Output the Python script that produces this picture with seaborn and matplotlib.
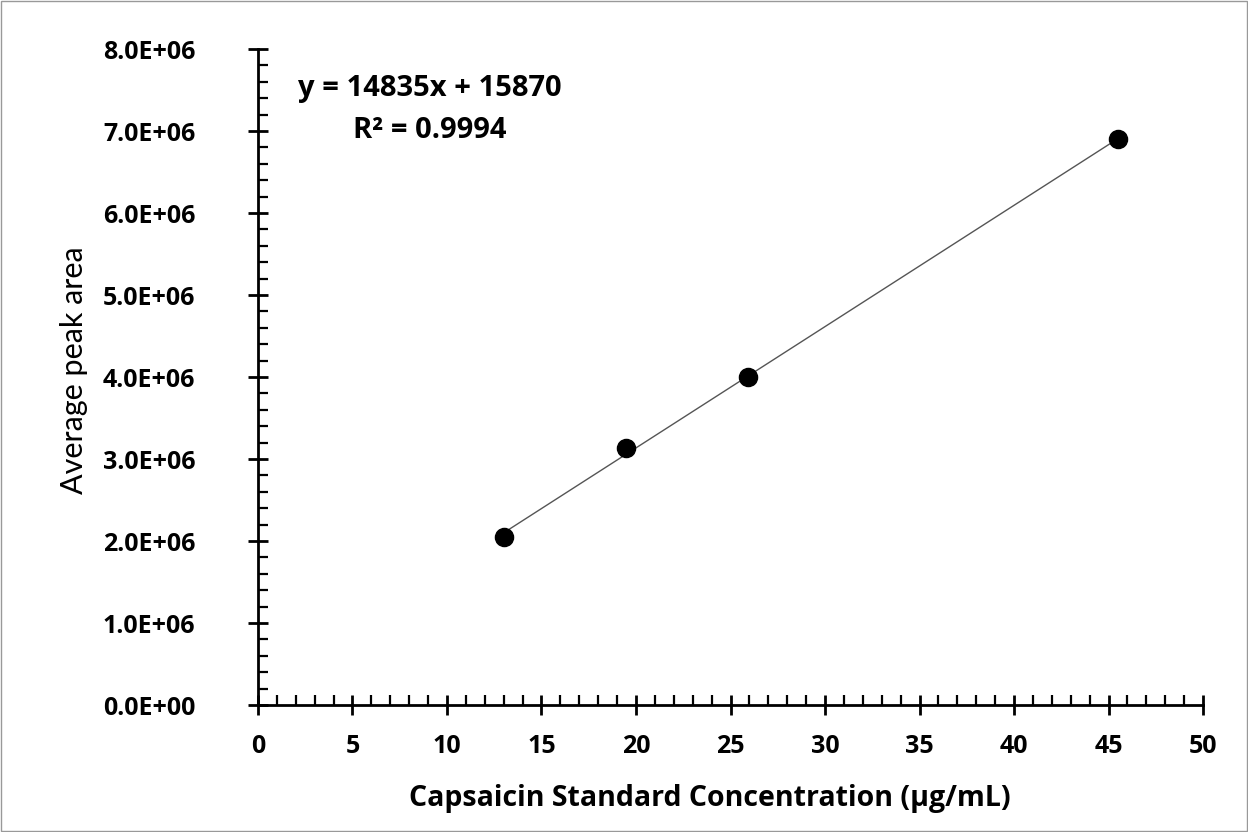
import matplotlib
matplotlib.use("Agg")
import matplotlib.pyplot as plt
import seaborn as sns
import numpy as np
import pandas as pd
from matplotlib.ticker import MultipleLocator, FuncFormatter
from matplotlib.patches import Rectangle

concentration = [13.0, 19.45, 25.95, 45.5]
peak_area = [2.05e6, 3.13e6, 4.00e6, 6.90e6]
x_label = "Capsaicin Standard Concentration (µg/mL)"
y_label = "Average peak area"
equation = "y = 14835x + 15870"
r2_text = "R² = 0.9994"

df = pd.DataFrame({"conc": concentration, "area": peak_area})

sns.set_theme(style="white")
plt.rcParams['font.family'] = ['Open Sans', 'DejaVu Sans']
plt.rcParams['text.color'] = 'black'
plt.rcParams['axes.labelcolor'] = 'black'
plt.rcParams['xtick.color'] = 'black'
plt.rcParams['ytick.color'] = 'black'

fig = plt.figure(figsize=(12.48, 8.32), dpi=100)
ax = fig.add_axes([0.2067, 0.1526, 0.964 - 0.2067, 0.941 - 0.1526])

sns.regplot(data=df, x="conc", y="area", ax=ax, ci=None, truncate=True,
            scatter_kws=dict(s=170, color="black", edgecolor="black", alpha=1, zorder=3),
            line_kws=dict(color="#555555", lw=1.0, zorder=2))

ax.set_xlim(0, 50)
ax.set_ylim(0, 8e6)
ax.xaxis.set_major_locator(MultipleLocator(5))
ax.xaxis.set_minor_locator(MultipleLocator(1))
ax.yaxis.set_major_locator(MultipleLocator(1e6))
ax.yaxis.set_minor_locator(MultipleLocator(2e5))
ax.yaxis.set_major_formatter(FuncFormatter(lambda v, p: f"{v/1e6:.1f}E+06" if v != 0 else "0.0E+00"))
ax.xaxis.set_major_formatter(FuncFormatter(lambda v, p: f"{int(v)}"))

for s in ["top", "right"]:
    ax.spines[s].set_visible(False)
for s in ["left", "bottom"]:
    ax.spines[s].set_color("black")
    ax.spines[s].set_linewidth(2.0)

ax.tick_params(axis="both", which="major", direction="inout", length=14, width=2.0,
               colors="black", labelcolor="black", labelsize=18)
ax.tick_params(axis="both", which="minor", direction="in", length=7, width=1.6, colors="black")
ax.tick_params(axis="x", which="both", bottom=True)
ax.tick_params(axis="y", which="both", left=True)
for lbl in ax.get_xticklabels() + ax.get_yticklabels():
    lbl.set_fontweight("bold")
ax.tick_params(axis="x", which="major", pad=14)
ax.tick_params(axis="y", which="major", pad=38)

ax.set_xlabel(x_label, fontsize=20.5, fontweight="bold", color="black")
ax.set_ylabel(y_label, fontsize=22, family=["Lato", "DejaVu Sans"], color="black")
ax.xaxis.set_label_coords(0.478, -0.12)
ax.yaxis.set_label_coords(-0.18, 0.51)

ax.text(9.1, 7.52e6, equation, ha="center", va="center", fontsize=21, fontweight="bold", color="black")
ax.text(9.1, 7.01e6, r2_text, ha="center", va="center", fontsize=21, fontweight="bold", color="black")

fig.patches.append(Rectangle((0.001, 0.001), 0.998, 0.998, transform=fig.transFigure,
                             fill=False, edgecolor="#999999", lw=1))

fig.savefig("out.png", dpi=100)
